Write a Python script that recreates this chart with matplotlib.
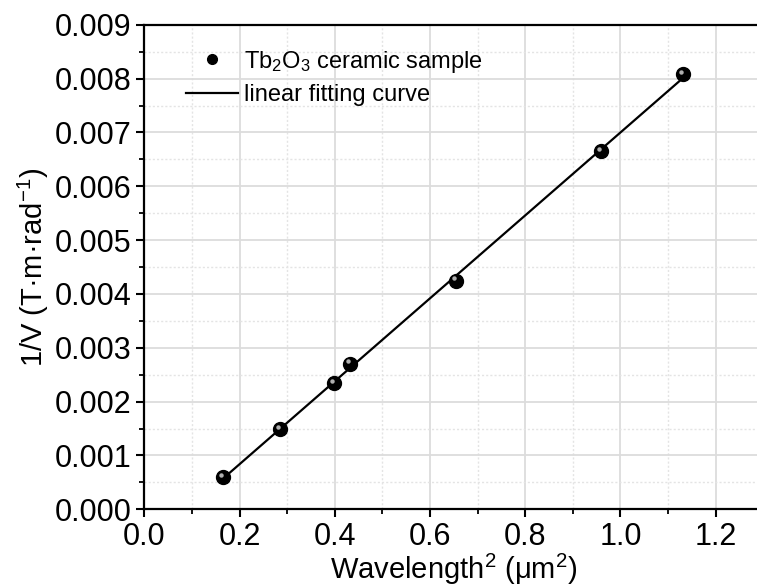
import numpy as np
import matplotlib
matplotlib.use("Agg")
import matplotlib.pyplot as plt
import matplotlib.transforms as mtransforms
from matplotlib.ticker import MultipleLocator, FormatStrFormatter

# Data
wavelength_sq = [0.165, 0.285, 0.399, 0.432, 0.654, 0.960, 1.132]
inv_verdet = [0.000594, 0.001486, 0.00234, 0.00270, 0.004246, 0.006655, 0.00808]

plt.rcParams['font.family'] = ['Liberation Sans', 'DejaVu Sans']
plt.rcParams['mathtext.fontset'] = 'custom'
plt.rcParams['mathtext.rm'] = 'Liberation Sans'
plt.rcParams['mathtext.it'] = 'Liberation Sans:italic'
plt.rcParams['mathtext.default'] = 'regular'

fig = plt.figure(figsize=(7.57, 5.88), dpi=100)
ax = fig.add_axes([0.1906, 0.1338, 0.8178, 0.8241])

x = np.array(wavelength_sq)
y = np.array(inv_verdet)
k, b = np.polyfit(x, y, 1)
xf = np.array([x.min(), x.max()])
ax.plot(xf, k * xf + b, color='black', lw=1.6, zorder=3, label='linear fitting curve')

ax.plot(x, y, 'o', color='black', ms=10, zorder=4, ls='none', label='Tb$_2$O$_3$ ceramic sample')
hl = mtransforms.offset_copy(ax.transData, fig=fig, x=-1.5, y=1.8, units='points')
ax.plot(x, y, 'o', color='#b0b0b0', ms=3.2, mec='none', zorder=5, transform=hl)

ax.set_xlim(0, 1.3)
ax.set_ylim(0, 0.009)
ax.xaxis.set_major_locator(MultipleLocator(0.2))
ax.xaxis.set_minor_locator(MultipleLocator(0.1))
ax.yaxis.set_major_locator(MultipleLocator(0.001))
ax.yaxis.set_minor_locator(MultipleLocator(0.0005))
ax.xaxis.set_major_formatter(FormatStrFormatter('%.1f'))
ax.yaxis.set_major_formatter(FormatStrFormatter('%.3f'))

ax.grid(which='major', color='#dcdcdc', lw=1.3, ls='-', zorder=0)
ax.grid(which='minor', color='#e4e4e4', lw=1.0, ls=(0, (1.5, 1.5)), zorder=0)
ax.set_axisbelow(True)

for s in ['left', 'bottom', 'top']:
    ax.spines[s].set_linewidth(1.6)
ax.spines['right'].set_visible(False)

ax.tick_params(which='major', direction='out', length=6, width=1.5, labelsize=22, pad=3)
ax.tick_params(which='minor', direction='out', length=3.5, width=1.3)
ax.tick_params(top=False, right=False, which='both')

ax.set_xlabel('Wavelength$^2$ (μm$^2$)', fontsize=21, labelpad=0)
ax.set_ylabel('1/V (T·m·rad$^{-1}$)', fontsize=21, labelpad=3)

handles, labels = ax.get_legend_handles_labels()
order = [1, 0]
leg = ax.legend([handles[i] for i in order], [labels[i] for i in order],
                loc='upper left', bbox_to_anchor=(0.04, 0.985), frameon=False,
                fontsize=17, handlelength=2.2, handletextpad=0.28, labelspacing=0.42,
                borderaxespad=0.3, markerscale=0.7)

fig.savefig('out.png', dpi=100)
